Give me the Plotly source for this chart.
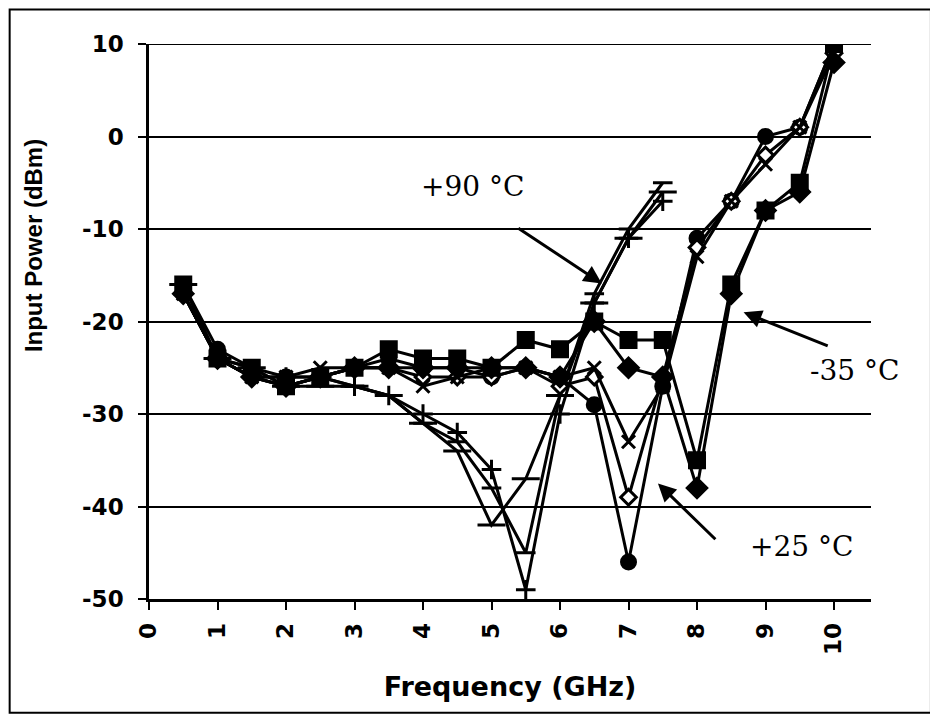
import plotly.graph_objects as go

freq = [0.5, 1.0, 1.5, 2.0, 2.5, 3.0, 3.5, 4.0, 4.5, 5.0, 5.5, 6.0, 6.5, 7.0, 7.5, 8.0, 8.5, 9.0, 9.5, 10.0]
freq_hot = freq[:15]

# +90 °C group (dip near 5-5.5 GHz), curves end at 7.5 GHz
hot_a = [-17, -24, -26, -26, -26, -27, -28, -30, -32, -36, -49, -30, -18, -11, -7]
hot_b = [-17, -24, -26, -27, -26, -27, -28, -31, -33, -38, -45, -28, -17, -10, -5]
hot_c = [-16, -24, -25, -27, -27, -27, -28, -31, -34, -42, -37, -28, -18, -11, -6]

# +25 °C group (dip near 7 GHz)
room_a = [-16, -23, -25, -26, -26, -25, -24, -25, -25, -26, -25, -26, -29, -46, -27, -11, -7, 0, 1, 10]
room_b = [-17, -24, -26, -27, -26, -25, -25, -26, -26, -26, -25, -27, -26, -39, -26, -12, -7, -2, 1, 9]
room_c = [-17, -24, -26, -26, -25, -25, -25, -27, -26, -25, -25, -26, -25, -33, -27, -13, -7, -3, 1, 10]

# -35 °C group (dip near 8 GHz)
cold_a = [-16, -24, -25, -27, -26, -25, -23, -24, -24, -25, -22, -23, -20, -22, -22, -35, -16, -8, -5, 10]
cold_b = [-17, -24, -26, -27, -26, -25, -25, -25, -25, -25, -25, -26, -20, -25, -26, -38, -17, -8, -6, 8]

y_ticks = [-50, -40, -30, -20, -10, 0, 10]
x_ticks = [0, 1, 2, 3, 4, 5, 6, 7, 8, 9, 10]

series = [
    ("+90 °C a", freq_hot, hot_a, "cross-thin", 14, "black"),
    ("+90 °C b", freq_hot, hot_b, "line-ew", 14, "black"),
    ("+90 °C c", freq_hot, hot_c, "line-ew", 20, "black"),
    ("+25 °C a", freq, room_a, "circle", 14, "black"),
    ("+25 °C b", freq, room_b, "diamond", 12, "white"),
    ("+25 °C c", freq, room_c, "x-thin", 13, "black"),
    ("-35 °C a", freq, cold_a, "square", 15, "black"),
    ("-35 °C b", freq, cold_b, "diamond", 15, "black"),
]

fig = go.Figure()
for name, xs, ys, sym, sz, fill in series:
    fig.add_trace(go.Scatter(
        x=xs, y=ys, mode="lines+markers", name=name,
        line=dict(color="black", width=3),
        marker=dict(symbol=sym, size=sz, color=fill,
                    line=dict(color="black", width=3)),
        showlegend=False,
    ))

label_font = dict(family="DejaVu Serif", size=28, color="black")
arrow_common = dict(showarrow=True, arrowhead=2, arrowsize=1.2, arrowwidth=3,
                    arrowcolor="black", xref="x", yref="y", axref="x", ayref="y")
fig.add_annotation(x=6.61, y=-15.9, ax=5.37, ay=-9.8, text="", **arrow_common)
fig.add_annotation(x=4.72, y=-5.4, text="+90 °C", showarrow=False, font=label_font,
                   xref="x", yref="y")
fig.add_annotation(x=8.68, y=-19.0, ax=9.93, ay=-22.7, text="", **arrow_common)
fig.add_annotation(x=10.3, y=-25.3, text="-35 °C", showarrow=False, font=label_font,
                   xref="x", yref="y")
fig.add_annotation(x=7.43, y=-37.5, ax=8.29, ay=-43.7, text="", **arrow_common)
fig.add_annotation(x=9.52, y=-44.3, text="+25 °C", showarrow=False, font=label_font,
                   xref="x", yref="y")

# y-axis title (placed above centre, as in the original)
fig.add_annotation(x=-0.182, y=0.636, xref="paper", yref="paper", text="Input Power (dBm)",
                   textangle=-90, showarrow=False,
                   font=dict(family="Liberation Sans", size=24, color="black", weight="bold"))

# outer frame
fig.add_shape(type="rect", xref="paper", yref="paper",
              x0=-0.193, x1=1.083, y0=-0.205, y1=1.062,
              line=dict(color="black", width=2))

tick_font = dict(family="DejaVu Sans", size=23, color="black", weight="bold")
fig.update_layout(
    width=938, height=721,
    margin=dict(l=141, r=75, t=36, b=130),
    paper_bgcolor="white", plot_bgcolor="white",
    xaxis=dict(range=[0, 10.54], tickvals=x_ticks, ticktext=[str(v) for v in x_ticks],
               tickangle=-90, ticks="outside", ticklen=8, tickwidth=2, tickcolor="black",
               showline=True, linecolor="black", linewidth=2.5, showgrid=False,
               zeroline=False, tickfont=tick_font, ticklabelstandoff=4,
               title=dict(text="Frequency (GHz)", standoff=24,
                          font=dict(family="DejaVu Sans", size=27, color="black",
                                    weight="bold"))),
    yaxis=dict(range=[-50, 10], tickvals=y_ticks, ticktext=[str(v) for v in y_ticks],
               ticks="outside", ticklen=8, tickwidth=2, tickcolor="black",
               showline=True, linecolor="black", linewidth=2.5,
               showgrid=True, gridcolor="black", gridwidth=2, zeroline=False,
               tickfont=tick_font, ticklabelstandoff=10),
)
fig.add_shape(type="line", xref="paper", yref="y", x0=0, x1=1, y0=10, y1=10,
              line=dict(color="black", width=2))

fig.write_html("out.html")
